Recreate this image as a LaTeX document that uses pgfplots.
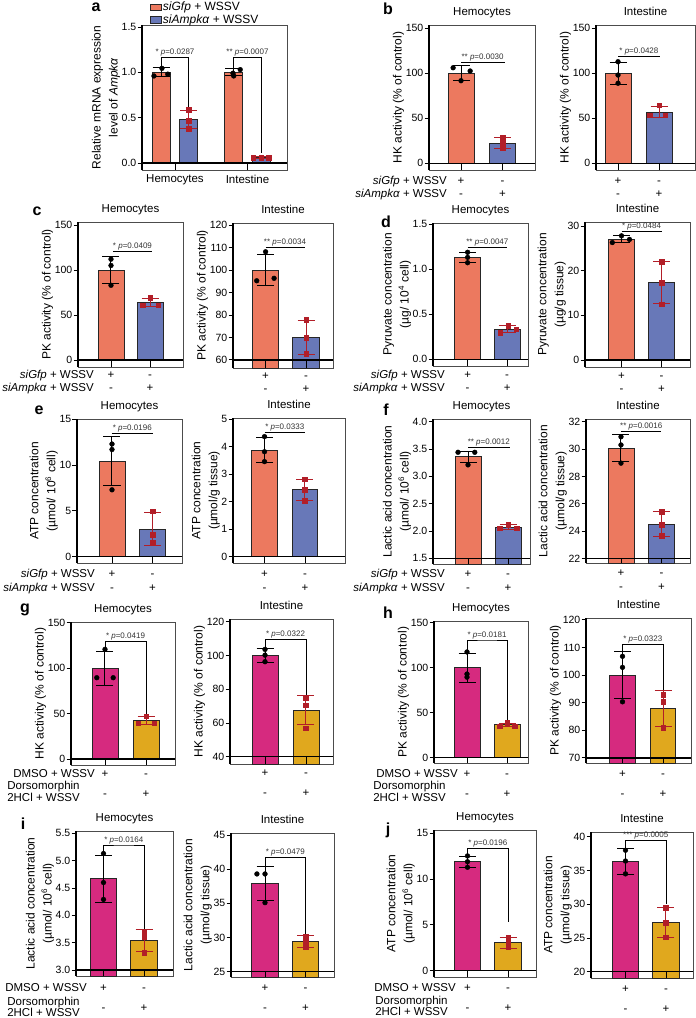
\documentclass[border=0pt]{standalone}
\usepackage{fontspec}
\setmainfont{Liberation Sans}
\usepackage{pgfplots}
\pgfplotsset{compat=1.18}
\definecolor{cO}{RGB}{236,121,95}
\definecolor{cB}{RGB}{104,120,184}
\definecolor{cM}{RGB}{214,42,127}
\definecolor{cG}{RGB}{224,168,30}
\definecolor{cR}{RGB}{178,30,40}
\newcommand\fTick{\fontsize{10.5}{12}\selectfont}
\newcommand\fYl{\fontsize{12}{17}\selectfont}
\newcommand\fTi{\fontsize{11.5}{13}\selectfont}
\newcommand\fRow{\fontsize{11.5}{11.5}\selectfont}
\newcommand\fP{\fontsize{8}{9}\selectfont}
\newcommand\fLeg{\fontsize{12}{12}\selectfont}
\newcommand\fLet{\fontsize{16}{18}\selectfont\bfseries}
\tikzset{
 pm/.style={font=\fRow, anchor=base, inner sep=0pt},
 rl/.style={font=\fRow, anchor=base east, inner sep=0pt},
 dl/.style={font=\fRow, align=center, anchor=east, inner sep=0pt},
 pl/.style={line width=0.7pt, black},
 ptx/.style={font=\fP, text=black!80, inner sep=1pt, anchor=south},
 ax/.style={line width=1.5pt, black},
 xt/.style={line width=0.9pt, black},
}
\pgfplotsset{
 pan/.style={scale only axis, clip=false, anchor=north west,
  axis line style={draw=black!70, line width=0.7pt},
  tick pos=left, ytick align=outside, major tick length=4.5pt,
  tick style={black, line width=0.9pt},
  xtick=\empty,
  yticklabel style={font=\fTick, inner sep=1pt},
  /pgf/number format/assume math mode=true,
  ylabel style={font=\fYl, align=center, inner sep=0.5pt},
  title style={font=\fTi, inner sep=1pt, text height=0.75em, text depth=0.22em},
 },
 dec1/.style={yticklabel style={/pgf/number format/.cd, fixed, fixed zerofill, precision=1}},
 ebase/.style={error bars/.cd, y dir=both, y explicit, error bar style={line width=1pt, #1}, error mark options={rotate=90, line width=1pt, #1, mark size=8.5pt}},
 obar/.style={ybar, bar shift=0pt, fill=cO, draw=black!85, line width=0.9pt, ebase=black},
 bbar/.style={ybar, bar shift=0pt, fill=cB, draw=black!85, line width=0.9pt, ebase=cR},
 mbar/.style={ybar, bar shift=0pt, fill=cM, draw=black!85, line width=0.9pt, ebase=black},
 gbar/.style={ybar, bar shift=0pt, fill=cG, draw=black!85, line width=0.9pt, ebase=cR},
 bpt/.style={only marks, mark=*, mark size=2.4pt, black, mark options={fill=black}},
 rpt/.style={only marks, mark=square*, mark size=2.3pt, cR, mark options={fill=cR, draw=cR}},
}
\newcommand\axl{%
 \draw[ax] (rel axis cs:0,0) -- (rel axis cs:0,1);
 \draw[ax] ({rel axis cs:0,0}|-{axis cs:0,\base}) -- ({rel axis cs:1,0}|-{axis cs:0,\base});
 \draw[xt] ({axis cs:0,\base}|-{rel axis cs:0,0}) -- (axis cs:0,\base);
 \draw[xt] ({axis cs:1,\base}|-{rel axis cs:0,0}) -- (axis cs:1,\base);
}
\newcommand\pmr[2]{%
 \node[pm, yshift=-#1] at ({axis cs:0,\base}|-{rel axis cs:0,0}) {+};
 \node[pm, yshift=-#2] at ({axis cs:0,\base}|-{rel axis cs:0,0}) {-};
 \node[pm, yshift=-#1] at ({axis cs:1,\base}|-{rel axis cs:0,0}) {-};
 \node[pm, yshift=-#2] at ({axis cs:1,\base}|-{rel axis cs:0,0}) {+};
}
\newcommand\pline[5]{\draw[pl] (axis cs:#1,#3) -- (axis cs:#2,#3); \node[ptx] at (axis cs:#4,#3) {#5};}
\newcommand\pbr[7]{\draw[pl] (axis cs:#1,#2) |- (axis cs:#6,#5) -| (axis cs:#3,#4); \node[ptx] at (axis cs:#6,#5) {#7};}
\begin{document}
\begin{tikzpicture}
\path[use as bounding box] (0pt,0pt) rectangle (696pt,-1018pt);
% ---------------- a
\def\base{0}
\begin{axis}[pan, at={(142pt,-25pt)}, width=145pt, height=145pt,
 xmin=-0.455, xmax=1.545, ymin=-0.077, ymax=1.522, ytick={0,0.5,1,1.5}, dec1,
 xtick={0,1}, xticklabels={Hemocytes,Intestine}, xtick style={draw=none},
 xticklabel style={font=\fTi, inner sep=0pt, yshift=-4.5pt},
 ylabel={Relative mRNA expression\\level of \textit{Ampkα}},
 legend style={at={(0.055,1.166)}, anchor=north west, draw=none, fill=none, font=\fLeg, inner sep=0pt, row sep=0.5pt, nodes={inner sep=1pt}}, legend cell align=left]
\addlegendimage{legend image code/.code={\draw[fill=cO,draw=black!85,line width=0.8pt] (0pt,-3.3pt) rectangle (11pt,3.3pt);}}
\addlegendentry{\textit{siGfp} + WSSV}
\addlegendimage{legend image code/.code={\draw[fill=cB,draw=black!85,line width=0.8pt] (0pt,-3.3pt) rectangle (11pt,3.3pt);}}
\addlegendentry{\textit{siAmpkα} + WSSV}
\addplot[bar width=0.248, obar] coordinates {(-0.19,1.0) +- (0,0.05) (0.81,1.0) +- (0,0.04)};
\addplot[bar width=0.248, bbar] coordinates {(0.19,0.48) +- (0,0.10) (1.19,0.06) +- (0,0.01)};
\addplot[bpt] coordinates {(-0.29,0.96) (-0.18,1.044) (-0.10,0.98) (0.90,1.03) (0.80,0.99) (0.81,0.96)};
\addplot[rpt] coordinates {(0.19,0.585) (0.19,0.47) (0.19,0.38) (1.08,0.06) (1.19,0.06) (1.29,0.06)};
\axl
\pbr{-0.19}{1.06}{0.19}{0.59}{1.166}{0}{* \textit{p}=0.0287}
\pbr{0.81}{1.05}{1.19}{0.107}{1.166}{1}{** \textit{p}=0.0007}
\end{axis}
% ---------------- b
\def\base{0}
\begin{axis}[pan, at={(429pt,-25pt)}, width=106pt, height=145pt,
 xmin=-0.771, xmax=1.783, ymin=-7.4, ymax=153.7, ytick={0,50,100,150},
 title=Hemocytes, ylabel={HK activity (\% of control)}]
\addplot[bar width=0.627, obar] coordinates {(0,100.2) +- (0,8)};
\addplot[bar width=0.627, bbar] coordinates {(1,22.4) +- (0,6)};
\addplot[bpt] coordinates {(-0.19,106.2) (0.22,102.6) (0,91.8)};
\addplot[rpt] coordinates {(1,28.4) (1,22.2) (1,16.7)};
\axl \pmr{14pt}{27pt}
\pline{0}{1.05}{112.2}{0.52}{** \textit{p}=0.0030}
\end{axis}
\begin{axis}[pan, at={(596pt,-25pt)}, width=99pt, height=145pt,
 xmin=-0.537, xmax=1.878, ymin=-7.4, ymax=153.7, ytick={0,50,100,150},
 title=Intestine, ylabel={HK activity (\% of control)}]
\addplot[bar width=0.634, obar] coordinates {(0,100) +- (0,12.5)};
\addplot[bar width=0.634, bbar] coordinates {(1,57) +- (0,6.5)};
\addplot[bpt] coordinates {(0,112.9) (0,98.1) (0,89.0)};
\addplot[rpt] coordinates {(1,64.5) (0.77,53.3) (1.15,53.3)};
\axl \pmr{14pt}{27pt}
\pline{0}{1.02}{118.5}{0.51}{* \textit{p}=0.0428}
\end{axis}
% ---------------- c
\def\base{0}
\begin{axis}[pan, at={(78pt,-222pt)}, width=105pt, height=145pt,
 xmin=-0.846, xmax=1.846, ymin=-7.8, ymax=153.3, ytick={0,50,100,150},
 title=Hemocytes, ylabel={PK activity (\% of control)}]
\addplot[bar width=0.667, obar] coordinates {(0,100) +- (0,15.5)};
\addplot[bar width=0.667, bbar] coordinates {(1,63.7) +- (0,4.5)};
\addplot[bpt] coordinates {(0,112) (0,105) (0,83)};
\addplot[rpt] coordinates {(1,69) (0.81,61) (1.21,61)};
\axl \pmr{11pt}{24pt}
\pline{0.05}{1.05}{120.3}{0.55}{* \textit{p}=0.0409}
\end{axis}
\def\base{60}
\begin{axis}[pan, at={(233pt,-223pt)}, width=100pt, height=145pt,
 xmin=-0.807, xmax=1.668, ymin=56.4, ymax=120.9, ytick={60,70,...,120},
 title=Intestine, ylabel={PK activity (\% of control)}]
\addplot[bar width=0.656, obar] coordinates {(0,99.9) +- (0,7)};
\addplot[bar width=0.656, bbar] coordinates {(1,70.1) +- (0,7.5)};
\addplot[bpt] coordinates {(0,108.1) (-0.22,95.2) (0.21,96.3)};
\addplot[rpt] coordinates {(1,77.8) (1,69.9) (1,62.7)};
\axl \pmr{11pt}{24pt}
\pline{0}{0.97}{110.1}{0.48}{** \textit{p}=0.0034}
\end{axis}
% ---------------- d
\def\base{0}
\begin{axis}[pan, at={(433pt,-223pt)}, width=95pt, height=143pt,
 xmin=-0.876, xmax=1.528, ymin=-0.074, ymax=1.514, ytick={0,0.5,1,1.5}, dec1,
 title=Hemocytes, ylabel={Pyruvate concentration\\(µg/ 10\textsuperscript{4} cell)}]
\addplot[bar width=0.652, obar] coordinates {(0,1.132) +- (0,0.06)};
\addplot[bar width=0.652, bbar] coordinates {(1,0.334) +- (0,0.04)};
\addplot[bpt] coordinates {(0,1.189) (0,1.133) (0,1.073)};
\addplot[rpt] coordinates {(1.03,0.373) (1.23,0.333) (0.82,0.296)};
\axl \pmr{12pt}{25pt}
\pline{0}{1.0}{1.244}{0.5}{** \textit{p}=0.0047}
\end{axis}
\def\base{0}
\begin{axis}[pan, at={(585pt,-222pt)}, width=105pt, height=145pt,
 xmin=-0.9125, xmax=1.7125, ymin=-1.57, ymax=30.9, ytick={0,10,20,30},
 title=Intestine, ylabel={Pyruvate concentration\\(µg/g tissue)}]
\addplot[bar width=0.66, obar] coordinates {(0,27.05) +- (0,0.8)};
\addplot[bar width=0.66, bbar] coordinates {(1,17.3) +- (0,4.7)};
\addplot[bpt] coordinates {(0,27.8) (0.2,27.0) (-0.23,26.3)};
\addplot[rpt] coordinates {(1,22.0) (1,17.3) (1,12.5)};
\axl \pmr{12pt}{25pt}
\pline{0}{1.0}{28.7}{0.5}{* \textit{p}=0.0484}
\end{axis}
% ---------------- e
\def\base{0}
\begin{axis}[pan, at={(77pt,-419pt)}, width=105pt, height=144pt,
 xmin=-0.864, xmax=1.728, ymin=-0.69, ymax=15.03, ytick={0,5,10,15},
 title=Hemocytes, ylabel={ATP concentration\\(µmol/ 10\textsuperscript{6} cell)}]
\addplot[bar width=0.642, obar] coordinates {(0,10.43) +- (0,2.7)};
\addplot[bar width=0.642, bbar] coordinates {(1,2.97) +- (0,1.8)};
\addplot[bpt] coordinates {(0,12.3) (0,11.7) (0,7.3)};
\addplot[rpt] coordinates {(1,4.95) (1,2.4) (1,1.55)};
\axl \pmr{14pt}{28pt}
\pline{0}{1.0}{13.5}{0.5}{* \textit{p}=0.0196}
\end{axis}
\def\base{0}
\begin{axis}[pan, at={(233pt,-418pt)}, width=112pt, height=145pt,
 xmin=-0.778, xmax=1.988, ymin=-0.229, ymax=5.047, ytick={0,1,...,5},
 title=Intestine, ylabel={ATP concentration\\(µmol/g tissue)}]
\addplot[bar width=0.63, obar] coordinates {(0,3.88) +- (0,0.45)};
\addplot[bar width=0.63, bbar] coordinates {(1,2.43) +- (0,0.39)};
\addplot[bpt] coordinates {(0,4.37) (0,3.82) (0,3.46)};
\addplot[rpt] coordinates {(1,2.82) (1,2.43) (1,2.04)};
\axl \pmr{14pt}{28pt}
\pline{0}{1.0}{4.54}{0.5}{* \textit{p}=0.0333}
\end{axis}
% ---------------- f
\def\base{1.5}
\begin{axis}[pan, at={(433pt,-419pt)}, width=97pt, height=145pt,
 xmin=-0.875, xmax=1.55, ymin=1.396, ymax=4.049, ytick={1.5,2,...,4}, dec1,
 title=Hemocytes, ylabel={Lactic acid concentration\\(µmol/ 10\textsuperscript{6} cell)}]
\addplot[bar width=0.65, obar] coordinates {(0,3.36) +- (0,0.1)};
\addplot[bar width=0.65, bbar] coordinates {(1,2.07) +- (0,0.04)};
\addplot[bpt] coordinates {(-0.25,3.44) (0.17,3.44) (0,3.21)};
\addplot[rpt] coordinates {(1,2.12) (0.79,2.05) (1.21,2.05)};
\axl \pmr{13pt}{27pt}
\pline{0}{1.05}{3.53}{0.52}{** \textit{p}=0.0012}
\end{axis}
\def\base{22}
\begin{axis}[pan, at={(586pt,-419pt)}, width=104pt, height=144pt,
 xmin=-0.864, xmax=1.704, ymin=21.66, ymax=32.2, ytick={22,24,...,32},
 title=Intestine, ylabel={Lactic acid concentration\\(µmol/g tissue)}]
\addplot[bar width=0.642, obar] coordinates {(0,30.06) +- (0,1.0)};
\addplot[bar width=0.642, bbar] coordinates {(1,24.5) +- (0,0.9)};
\addplot[bpt] coordinates {(0,30.9) (0,30.3) (0,28.97)};
\addplot[rpt] coordinates {(1,25.4) (1,24.45) (1,23.65)};
\axl \pmr{13pt}{27pt}
\pline{0}{1.0}{31.27}{0.5}{** \textit{p}=0.0016}
\end{axis}
% ---------------- g
\def\base{0}
\begin{axis}[pan, at={(71pt,-622pt)}, width=104pt, height=143pt,
 xmin=-0.829, xmax=1.707, ymin=-6.6, ymax=150.8, ytick={0,50,100,150},
 title=Hemocytes, ylabel={HK activity (\% of control)}]
\addplot[bar width=0.634, mbar] coordinates {(0,99.9) +- (0,18.5)};
\addplot[bar width=0.634, gbar] coordinates {(1,42) +- (0,4.5)};
\addplot[bpt] coordinates {(0,120.7) (-0.2,89.5) (0.2,89.5)};
\addplot[rpt] coordinates {(1,47.3) (0.81,39.3) (1.2,39.3)};
\axl \pmr{12pt}{32pt}
\pbr{0}{118.5}{1}{48.4}{130}{0.5}{* \textit{p}=0.0419}
\end{axis}
\def\base{40}
\begin{axis}[pan, at={(230pt,-619pt)}, width=103pt, height=145pt,
 xmin=-0.854, xmax=1.659, ymin=35.67, ymax=121.6, ytick={40,60,...,120},
 title=Intestine, ylabel={HK activity (\% of control)}]
\addplot[bar width=0.634, mbar] coordinates {(0,100) +- (0,4)};
\addplot[bar width=0.634, gbar] coordinates {(1,67.5) +- (0,8.5)};
\addplot[bpt] coordinates {(0,103.6) (0,100.2) (0,96.3)};
\addplot[rpt] coordinates {(1,75) (1,70.5) (1,57)};
\axl \pmr{12pt}{32pt}
\pbr{0}{104}{1}{76.6}{109.6}{0.5}{* \textit{p}=0.0322}
\end{axis}
% ---------------- h
\def\base{0}
\begin{axis}[pan, at={(434pt,-621pt)}, width=94pt, height=142pt,
 xmin=-0.825, xmax=1.525, ymin=-5.9, ymax=151.9, ytick={0,50,100,150},
 title=Hemocytes, ylabel={PK activity (\% of control)}]
\addplot[bar width=0.65, mbar] coordinates {(0,100) +- (0,16)};
\addplot[bar width=0.65, gbar] coordinates {(1,36.5) +- (0,2)};
\addplot[bpt] coordinates {(0,117.5) (0,93) (0,89.5)};
\addplot[rpt] coordinates {(1,39.2) (0.82,35.2) (1.19,35.2)};
\axl \pmr{14pt}{34pt}
\pbr{0}{116}{1}{40}{130.8}{0.5}{* \textit{p}=0.0181}
\end{axis}
\def\base{70}
\begin{axis}[pan, at={(586pt,-618pt)}, width=105pt, height=145pt,
 xmin=-0.901, xmax=1.691, ymin=68.1, ymax=120.7, ytick={70,80,...,120},
 title=Intestine, ylabel={PK activity (\% of control)}]
\addplot[bar width=0.63, mbar] coordinates {(0,100) +- (0,8.5)};
\addplot[bar width=0.63, gbar] coordinates {(1,88) +- (0,6.5)};
\addplot[bpt] coordinates {(0,106.8) (0,102.8) (0,90.3)};
\addplot[rpt] coordinates {(1,92.8) (1,90.3) (1,80.9)};
\axl \pmr{14pt}{34pt}
\pbr{0}{108.5}{1}{94.6}{111.2}{0.5}{* \textit{p}=0.0323}
\end{axis}
% ---------------- i
\def\base{3}
\begin{axis}[pan, at={(76pt,-831pt)}, width=97pt, height=145pt,
 xmin=-0.679, xmax=1.716, ymin=2.89, ymax=5.542, ytick={3,3.5,...,5.5}, dec1,
 title=Hemocytes, ylabel={Lactic acid concentration\\(µmol/ 10\textsuperscript{6} cell)}]
\addplot[bar width=0.654, mbar] coordinates {(0,4.67) +- (0,0.43)};
\addplot[bar width=0.654, gbar] coordinates {(1,3.54) +- (0,0.2)};
\addplot[bpt] coordinates {(0,5.13) (0,4.60) (0,4.29)};
\addplot[rpt] coordinates {(1,3.70) (1,3.61) (1,3.32)};
\axl \pmr{15pt}{35pt}
\pbr{0}{5.12}{1}{3.744}{5.286}{0.5}{* \textit{p}=0.0164}
\end{axis}
\def\base{25}
\begin{axis}[pan, at={(231pt,-833pt)}, width=103pt, height=144pt,
 xmin=-0.84, xmax=1.704, ymin=24.22, ymax=45.29, ytick={25,30,...,45},
 title=Intestine, ylabel={Lactic acid concentration\\(µmol/g tissue)}]
\addplot[bar width=0.654, mbar] coordinates {(0,37.9) +- (0,2.5)};
\addplot[bar width=0.654, gbar] coordinates {(1,29.4) +- (0,0.9)};
\addplot[bpt] coordinates {(-0.2,39.3) (0,39.3) (0,35.1)};
\addplot[rpt] coordinates {(1,30.2) (1,29.4) (1,28.66)};
\axl \pmr{14pt}{34pt}
\pbr{0}{40.4}{1}{30.5}{41.68}{0.5}{* \textit{p}=0.0479}
\end{axis}
% ---------------- j
\def\base{0}
\begin{axis}[pan, at={(434pt,-830pt)}, width=102pt, height=147pt,
 xmin=-0.827, xmax=1.691, ymin=-0.69, ymax=15.36, ytick={0,5,10,15},
 title=Hemocytes, ylabel={ATP concentration\\(µmol/ 10\textsuperscript{6} cell)}]
\addplot[bar width=0.654, mbar] coordinates {(0,11.9) +- (0,0.6)};
\addplot[bar width=0.654, gbar] coordinates {(1,3.05) +- (0,0.6)};
\addplot[bpt] coordinates {(0,12.53) (0,11.9) (0,11.29)};
\addplot[rpt] coordinates {(1,3.6) (1,3.0) (1,2.55)};
\axl \pmr{14pt}{34pt}
\pbr{0}{12.5}{1}{5.35}{13.36}{0.5}{* \textit{p}=0.0196}
\end{axis}
\def\base{20}
\begin{axis}[pan, at={(591pt,-832pt)}, width=102pt, height=146pt,
 xmin=-0.852, xmax=1.667, ymin=19.07, ymax=40.7, ytick={20,25,...,40},
 title=Intestine, ylabel={ATP concentration\\(µmol/g tissue)}]
\addplot[bar width=0.654, mbar] coordinates {(0,36.3) +- (0,1.9)};
\addplot[bar width=0.654, gbar] coordinates {(1,27.3) +- (0,2.2)};
\addplot[bpt] coordinates {(0,38.0) (0,36.4) (0,34.5)};
\addplot[rpt] coordinates {(1,29.5) (1,27.3) (1,25.1)};
\axl \pmr{14pt}{34pt}
\pbr{0}{38.1}{1}{30.0}{39.4}{0.5}{*** \textit{p}=0.0005}
\end{axis}
% ---------------- row labels
\node[rl] at (447pt,-184pt) {\textit{siGfp} + WSSV};
\node[rl] at (447pt,-197pt) {\textit{siAmpkα} + WSSV};
\node[rl] at (94pt,-378pt) {\textit{siGfp} + WSSV};
\node[rl] at (94pt,-391pt) {\textit{siAmpkα} + WSSV};
\node[rl] at (445pt,-378pt) {\textit{siGfp} + WSSV};
\node[rl] at (445pt,-391pt) {\textit{siAmpkα} + WSSV};
\node[rl] at (95pt,-577pt) {\textit{siGfp} + WSSV};
\node[rl] at (95pt,-591pt) {\textit{siAmpkα} + WSSV};
\node[rl] at (445pt,-577pt) {\textit{siGfp} + WSSV};
\node[rl] at (445pt,-591pt) {\textit{siAmpkα} + WSSV};
\node[rl] at (95pt,-777pt) {DMSO + WSSV};
\node[dl] at (80pt,-791.5pt) {Dorsomorphin\\2HCl + WSSV};
\node[rl] at (458pt,-777pt) {DMSO + WSSV};
\node[dl] at (446pt,-791.5pt) {Dorsomorphin\\2HCl + WSSV};
\node[rl] at (87pt,-991pt) {DMSO + WSSV};
\node[dl] at (80pt,-1007pt) {Dorsomorphin\\2HCl + WSSV};
\node[rl] at (456pt,-991pt) {DMSO + WSSV};
\node[dl] at (448pt,-1006pt) {Dorsomorphin\\2HCl + WSSV};
% ---------------- panel letters
\node[font=\fLet] at (96pt,-7.5pt) {a};
\node[font=\fLet] at (388pt,-9pt) {b};
\node[font=\fLet] at (37pt,-211pt) {c};
\node[font=\fLet] at (386pt,-222pt) {d};
\node[font=\fLet] at (39pt,-410pt) {e};
\node[font=\fLet] at (386pt,-410pt) {f};
\node[font=\fLet] at (25pt,-610pt) {g};
\node[font=\fLet] at (388pt,-613pt) {h};
\node[font=\fLet] at (23pt,-824pt) {i};
\node[font=\fLet] at (388pt,-830pt) {j};
\end{tikzpicture}
\end{document}
